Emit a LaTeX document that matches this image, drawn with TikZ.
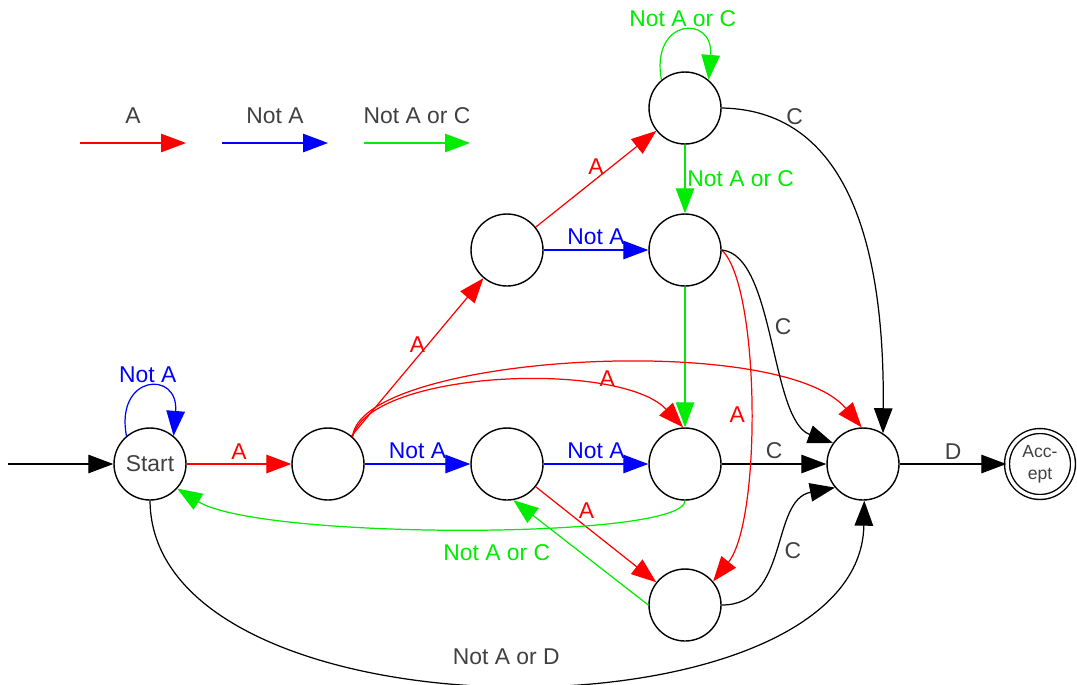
\documentclass[tikz,border=0pt]{standalone}
\usepackage{fontspec}
\setmainfont{Liberation Sans}
\usepackage{tikz}
\usetikzlibrary{arrows.meta, positioning}

\definecolor{rojo}{RGB}{255,0,0}
\definecolor{azul}{RGB}{0,0,255}
\definecolor{verde}{RGB}{0,236,0}
\definecolor{gris}{RGB}{64,64,64}

\tikzset{
    estado/.style={draw, circle, minimum size=1.44cm, inner sep=0pt, line width=0.8pt, text=gris},
    flecha/.style={line width=0.7pt, -{Triangle[length=0.5cm, width=0.37cm]}},
    tr roja/.style={flecha, rojo},
    tr azul/.style={flecha, azul},
    tr verde/.style={flecha, verde},
    tr negra/.style={flecha, black, text=gris},
    etiq/.style={inner sep=2.5pt}
}

\begin{document}
\begin{tikzpicture}[x=0.02cm, y=0.02cm, font=\fontsize{13}{15}\selectfont]
        \useasboundingbox (0,0) rectangle (1077,-684);
        % Estados del automata
        \node[estado] (start) at (150,-464) {Start};
        \node[estado] (q1) at (328,-464) {};
        \node[estado] (q2) at (507,-250) {};
        \node[estado] (q3) at (685,-108) {};
        \node[estado] (q4) at (685,-250) {};
        \node[estado] (q5) at (507,-464) {};
        \node[estado] (q6) at (685,-464) {};
        \node[estado] (q7) at (685,-605) {};
        \node[estado] (q8) at (863,-464) {};
        \node[estado, minimum size=1.32cm, double, double distance=2pt, align=center,
              font=\fontsize{10}{12.5}\selectfont] (acc) at (1040,-464) {Acc-\\ept};

        % Leyenda de colores
        \coordinate (ley1a) at (80,-143);
        \coordinate (ley1b) at (186,-143);
        \coordinate (ley2a) at (222,-143);
        \coordinate (ley2b) at (328,-143);
        \coordinate (ley3a) at (364,-143);
        \coordinate (ley3b) at (470,-143);
        \draw[tr roja] (ley1a) -- (ley1b) node[etiq, midway, above=8pt, text=gris] {A};
        \draw[tr azul] (ley2a) -- (ley2b) node[etiq, midway, above=8pt, text=gris] {Not A};
        \draw[tr verde] (ley3a) -- (ley3b) node[etiq, midway, above=8pt, text=gris] {Not A or C};

        % Entrada y lazos
        \coordinate (ini) at (8,-464);
        \draw[tr negra] (ini) -- (start);
        \draw[tr azul] (start.130) .. controls (115,-374) and (179,-370) .. (start.50)
            node[etiq, midway, above] {Not A};
        \draw[tr verde] (q3.130) .. controls (650,-18) and (714,-14) .. (q3.50)
            node[etiq, midway, above] {Not A or C};

        % Transiciones rectas
        \draw[tr roja] (start) -- (q1) node[etiq, midway, above] {A};
        \draw[tr roja] (q1) -- (q2) node[etiq, midway, above] {A};
        \draw[tr roja] (q2) -- (q3) node[etiq, midway, above] {A};
        \draw[tr azul] (q1) -- (q5) node[etiq, midway, above] {Not A};
        \draw[tr azul] (q5) -- (q6) node[etiq, midway, above] {Not A};
        \draw[tr azul] (q2) -- (q4) node[etiq, midway, above] {Not A};
        \draw[tr verde] (q3) -- (q4) node[etiq, midway, right, inner sep=1pt] {Not A or C};
        \draw[tr verde] (q4) -- (q6);
        \draw[tr roja] (q5) -- (q7) node[etiq, pos=0.42, above=2pt] {A};
        \draw[tr verde] (q7.180) -- (q5.-80);
        \draw[tr negra] (q6) -- (q8) node[etiq, midway, above] {C};
        \draw[tr negra] (q8) -- (acc) node[etiq, midway, above] {D};

        % Transiciones curvas
        \draw[tr roja] (q1.48) .. controls (370,-370) and (620,-360) .. (q6.93)
            node[etiq, pos=0.75, above] {A};
        \draw[tr roja] (q1.48) .. controls (360,-355) and (780,-330) .. (q8.92);
        \draw[tr roja] (q4.east) .. controls (760,-285) and (762,-520) .. (q7.40)
            node[etiq, pos=0.52, left] {A};
        \draw[tr negra] (q3.east) .. controls (840,-110) and (885,-230) .. (q8.57)
            node[etiq, pos=0.24, above] {C};
        \draw[tr negra] (q4.east) .. controls (775,-255) and (770,-420) .. (q8.145)
            node[etiq, pos=0.45, right] {C};
        \draw[tr negra] (q7.east) .. controls (790,-605) and (770,-500) .. (q8.-140)
            node[etiq, midway, right] {C};
        \draw[tr verde] (q6.south) .. controls (685,-540) and (260,-540) .. (start.-42)
            node[etiq, pos=0.45, below=6pt] {Not A or C};
        \draw[tr negra] (start.south) .. controls (152,-745) and (860,-745) .. (q8.-88)
            node[etiq, midway, above=8pt] {Not A or D};
    \end{tikzpicture}
\end{document}
